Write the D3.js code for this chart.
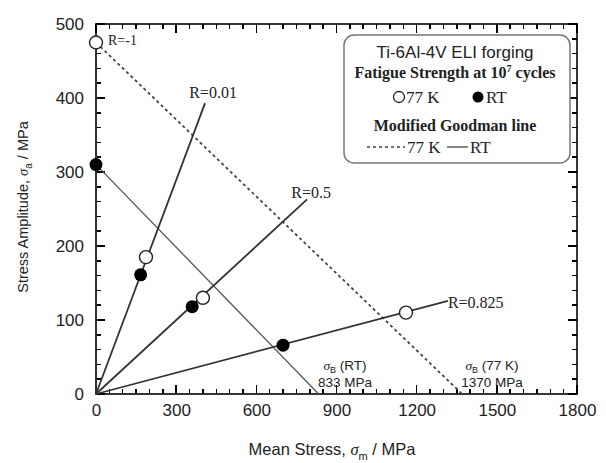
<!DOCTYPE html>
<html>
<head>
<meta charset="utf-8">
<script src="https://cdn.jsdelivr.net/npm/d3@7"></script>
<style>
  body { margin: 0; background: #fff; }
  svg text { fill: #222; }
</style>
</head>
<body>
<svg id="chart"></svg>
<script>
'use strict';

let WIDTH = 606;
let HEIGHT = 463;
let M = { top: 24, right: 29, bottom: 69, left: 96 };

// fatigue strength at 10^7 cycles, one entry per stress ratio
let rLabels = ['R=-1', 'R=0.01', 'R=0.5', 'R=0.825'];
let mean77 = [0, 187, 400, 1160];
let amp77 = [475, 185, 130, 110];
let meanRT = [0, 167, 360, 700];
let ampRT = [310, 161, 118, 66];

// where each R line stops (mean, amplitude)
let rEndMean = [0, 408, 790, 1317];
let rEndAmp = [475, 393, 263, 126];

// modified Goodman lines: amplitude intercept and tensile strength
let goodmanRT = [310, 833];
let goodman77 = [475, 1370];

let xTicks = [0, 300, 600, 900, 1200, 1500, 1800];
let yTicks = [0, 100, 200, 300, 400, 500];

let svg = d3.select('#chart').attr('width', WIDTH).attr('height', HEIGHT);
let iw = WIDTH - M.left - M.right;
let ih = HEIGHT - M.top - M.bottom;
let x0 = M.left, x1 = M.left + iw, y0 = M.top + ih, y1 = M.top;

let x = d3.scaleLinear().domain([0, 1800]).range([x0, x1]);
let y = d3.scaleLinear().domain([0, 500]).range([y0, y1]);

let SANS = 'Liberation Sans, Arial, sans-serif';
let SERIF = 'Liberation Serif, Times New Roman, serif';

// tick labels
let xLab = svg.append('g').attr('transform', `translate(0,${y0})`)
    .call(d3.axisBottom(x).tickValues(xTicks).tickSize(0).tickPadding(10).tickFormat(d3.format('d')));
xLab.select('.domain').remove();
xLab.selectAll('text').attr('font-family', SANS).attr('font-size', 17).attr('fill', '#333');
let yLab = svg.append('g').attr('transform', `translate(${x0},0)`)
    .call(d3.axisLeft(y).tickValues(yTicks).tickSize(0).tickPadding(12).tickFormat(d3.format('d')));
yLab.select('.domain').remove();
yLab.selectAll('text').attr('font-family', SANS).attr('font-size', 17).attr('fill', '#333');

// frame
svg.append('rect')
    .attr('x', x0).attr('y', y1).attr('width', iw).attr('height', ih)
    .attr('fill', 'none').attr('stroke', '#222').attr('stroke-width', 1.8);

// inward ticks on all four sides, one path per side
let xMinor = d3.range(0, 1801, 50);
let yMinor = d3.range(0, 501, 20);
function tickLen(v, step) { return v % step == 0 ? 9 : 5; }

function xTickPath(base, dir) {
    return xMinor.map(function(d) {
        return 'M' + x(d) + ',' + base + 'V' + (base + dir * tickLen(d, 300));
    }).join('');
}
function yTickPath(base, dir) {
    return yMinor.map(function(d) {
        return 'M' + base + ',' + y(d) + 'H' + (base + dir * tickLen(d, 100));
    }).join('');
}
[xTickPath(y0, -1), xTickPath(y1, 1), yTickPath(x0, 1), yTickPath(x1, -1)].forEach(function(p) {
    svg.append('path')
        .attr('d', p)
        .attr('fill', 'none')
        .attr('stroke', '#000')
        .attr('stroke-width', 1.5)
        .attr('shape-rendering', 'crispEdges');
});

// Goodman lines
svg.append('line')
    .attr('x1', x(0)).attr('y1', y(goodman77[0]))
    .attr('x2', x(goodman77[1])).attr('y2', y(0))
    .attr('stroke', '#444').attr('stroke-width', 1.8).attr('stroke-dasharray', '3,3');
svg.append('line')
    .attr('x1', x(0)).attr('y1', y(goodmanRT[0]))
    .attr('x2', x(goodmanRT[1])).attr('y2', y(0))
    .attr('stroke', '#555').attr('stroke-width', 1.3);

// R lines from the origin
svg.selectAll('.rline')
    .data(rEndMean)
    .enter()
    .append('line')
    .attr('class', 'rline')
    .attr('x1', x(0)).attr('y1', y(0))
    .attr('x2', function(d) { return x(d); })
    .attr('y2', function(d, i) { return y(rEndAmp[i]); })
    .attr('stroke', '#333').attr('stroke-width', 1.8);

// R labels (mean, amplitude of the label anchor)
let rLabPos = [[45, 478], [438, 407], [805, 273], [1317, 124]];
let rLabAnchor = ['start', 'middle', 'middle', 'start'];
svg.selectAll('.rlab')
    .data(rLabels)
    .enter()
    .append('text')
    .attr('class', 'rlab')
    .attr('x', function(d, i) { return x(rLabPos[i][0]); })
    .attr('y', function(d, i) { return y(rLabPos[i][1]); })
    .attr('dy', '0.35em')
    .attr('text-anchor', function(d, i) { return rLabAnchor[i]; })
    .attr('font-family', SERIF).attr('font-size', function(d, i) { return i == 0 ? 14 : 16; })
    .text(function(d) { return d; });

// points
svg.selectAll('.p77')
    .data(mean77)
    .enter()
    .append('circle')
    .attr('cx', function(d) { return x(d); })
    .attr('cy', function(d, i) { return y(amp77[i]); })
    .attr('r', 6.5)
    .attr('fill', '#fff').attr('stroke', '#222').attr('stroke-width', 1.4);
svg.selectAll('.prt')
    .data(meanRT)
    .enter()
    .append('circle')
    .attr('cx', function(d) { return x(d); })
    .attr('cy', function(d, i) { return y(ampRT[i]); })
    .attr('r', 6.5)
    .attr('fill', '#000');

// tensile strength annotations
function sigmaB(cx, rest, val) {
    let t = svg.append('text')
        .attr('x', cx).attr('y', 370)
        .attr('text-anchor', 'middle')
        .attr('font-family', SANS).attr('font-size', 13.5);
    t.append('tspan').attr('font-style', 'italic').attr('font-family', SERIF).text('σ');
    t.append('tspan').attr('font-size', 9).attr('dy', 3).text('B');
    t.append('tspan').attr('dy', -3).text(' ' + rest);
    svg.append('text')
        .attr('x', cx).attr('y', 387)
        .attr('text-anchor', 'middle')
        .attr('font-family', SANS).attr('font-size', 13.5)
        .text(val + ' MPa');
}
sigmaB(345, '(RT)', goodmanRT[1]);
sigmaB(492, '(77 K)', goodman77[1]);

// legend
let lg = svg.append('g');
lg.append('rect')
    .attr('x', 344).attr('y', 35).attr('width', 226).attr('height', 128)
    .attr('rx', 10).attr('ry', 10)
    .attr('fill', '#fff').attr('stroke', '#777').attr('stroke-width', 1.5);
lg.append('text').attr('x', 455).attr('y', 58).attr('text-anchor', 'middle')
    .attr('font-family', SANS).attr('font-size', 17).text('Ti-6Al-4V ELI forging');
let fs = lg.append('text').attr('x', 455).attr('y', 78).attr('text-anchor', 'middle')
    .attr('font-family', SERIF).attr('font-size', 16).attr('font-weight', 'bold');
fs.append('tspan').text('Fatigue Strength at 10');
fs.append('tspan').attr('font-size', 10).attr('dy', -6).text('7');
fs.append('tspan').attr('dy', 6).text(' cycles');
lg.append('circle').attr('cx', 399).attr('cy', 97).attr('r', 5.5)
    .attr('fill', '#fff').attr('stroke', '#222').attr('stroke-width', 1.3);
lg.append('text').attr('x', 406).attr('y', 103)
    .attr('font-family', SERIF).attr('font-size', 17).text('77 K');
lg.append('circle').attr('cx', 478).attr('cy', 97).attr('r', 5.5).attr('fill', '#000');
lg.append('text').attr('x', 486).attr('y', 103)
    .attr('font-family', SERIF).attr('font-size', 17).text('RT');
lg.append('text').attr('x', 455).attr('y', 131).attr('text-anchor', 'middle')
    .attr('font-family', SERIF).attr('font-size', 16).attr('font-weight', 'bold')
    .text('Modified Goodman line');
lg.append('line').attr('x1', 367).attr('y1', 147).attr('x2', 405).attr('y2', 147)
    .attr('stroke', '#444').attr('stroke-width', 1.5).attr('stroke-dasharray', '3,3');
lg.append('text').attr('x', 407).attr('y', 153)
    .attr('font-family', SERIF).attr('font-size', 17).text('77 K');
lg.append('line').attr('x1', 447).attr('y1', 147).attr('x2', 468).attr('y2', 147)
    .attr('stroke', '#444').attr('stroke-width', 1.3);
lg.append('text').attr('x', 470).attr('y', 153)
    .attr('font-family', SERIF).attr('font-size', 17).text('RT');

// axis titles
let xt = svg.append('text').attr('x', 332).attr('y', 455).attr('text-anchor', 'middle')
    .attr('font-family', SANS).attr('font-size', 16.5);
xt.append('tspan').text('Mean Stress, ');
xt.append('tspan').attr('font-family', SERIF).attr('font-style', 'italic').text('σ');
xt.append('tspan').attr('font-size', 11).attr('dy', 5).text('m');
xt.append('tspan').attr('dy', -5).text(' / MPa');

let yt = svg.append('text')
    .attr('transform', 'translate(28,207) rotate(-90)')
    .attr('text-anchor', 'middle')
    .attr('font-family', SANS).attr('font-size', 14.5);
yt.append('tspan').text('Stress Amplitude, ');
yt.append('tspan').attr('font-family', SERIF).attr('font-style', 'italic').text('σ');
yt.append('tspan').attr('font-size', 10).attr('dy', 4).text('a');
yt.append('tspan').attr('dy', -4).text(' / MPa');
</script>
</body>
</html>
